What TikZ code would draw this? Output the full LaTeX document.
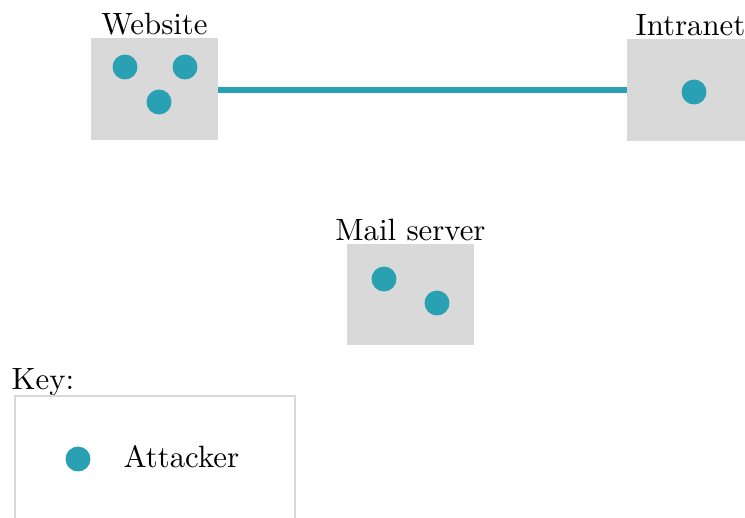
\documentclass[tikz,border=0pt]{standalone}
\usetikzlibrary{positioning}
\definecolor{hostgray}{RGB}{217,217,217}
\definecolor{teal}{RGB}{41,161,179}
\begin{document}
\begin{tikzpicture}[x=0.3247pt,y=-0.3247pt,
  hostbox/.style={fill=hostgray,draw=none},
  attacker/.style={circle,fill=teal,draw=none,minimum size=8.1pt,inner sep=0pt},
  lbl/.style={anchor=base,inner sep=0pt},
  link/.style={draw=teal,line width=1.95pt}]
\useasboundingbox (0,0) rectangle (745,517);
\clip (0,0) rectangle (745,517);

% hosts
\path[hostbox] (91,38) rectangle (218,140);
\coordinate (webE) at (218,90);
\node[lbl] (webL) at (154.5,34) {Website};
\node[attacker] (w1) at (125,67) {};
\node[attacker] (w2) at (185,67) {};
\node[attacker] (w3) at (159,102) {};

\path[hostbox] (627,39) rectangle (754,141);
\coordinate (intW) at (627,90);
\node[lbl] (intL) at (690.5,35) {Intranet};
\node[attacker] (i1) at (694,92) {};

\path[hostbox] (347,244) rectangle (474,345);
\node[lbl] (mailL) at (410.5,240) {Mail server};
\node[attacker] (m1) at (384,279) {};
\node[attacker] (m2) at (437,303) {};

% connection
\draw[link] (webE) -- (intW);

% key
\node[anchor=base west,inner sep=0pt] (keyL) at (11,389) {Key:};
\draw[draw=hostgray,line width=0.9pt] (15,530) -- (15,396) -- (295,396) -- (295,530);
\node[attacker] (k1) at (78,459) {};
\node[anchor=base west,inner sep=0pt] (keyA) at (123,467) {Attacker};
\end{tikzpicture}
\end{document}
